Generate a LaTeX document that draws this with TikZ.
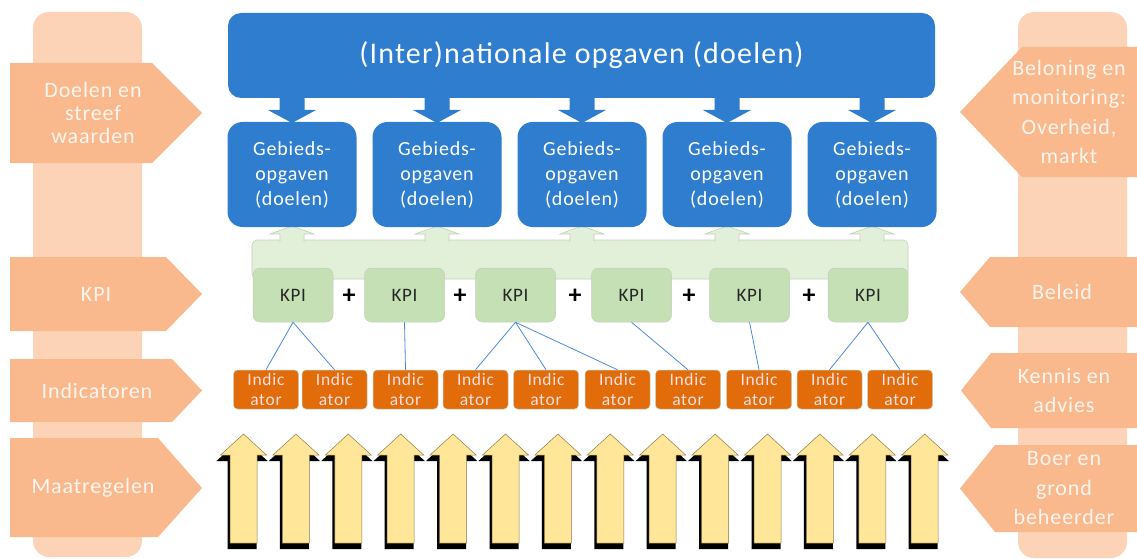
\documentclass[tikz,border=0pt]{standalone}
\usepackage{fontspec}
\setmainfont{Carlito}[LetterSpace=4]
\definecolor{blueM}{HTML}{2E7DCE}
\definecolor{pent}{HTML}{F9B98D}
\definecolor{colL}{HTML}{FDD3B7}
\definecolor{pentT}{HTML}{FFF5EF}
\definecolor{grK}{HTML}{C5E0B4}
\definecolor{grL}{HTML}{E2F0D9}
\definecolor{grB}{HTML}{C3CFBC}
\definecolor{orI}{HTML}{E36C0A}
\definecolor{orT}{HTML}{FCE0E4}
\definecolor{lineB}{HTML}{4A8AD6}
\definecolor{arrY}{HTML}{FFE699}
\definecolor{arrYD}{HTML}{8C7A4A}
\tikzset{
  ltext/.style={text=pentT, align=center, font=\fontsize{22}{23}\selectfont, inner sep=0pt},
  rtext/.style={text=pentT, align=center, font=\fontsize{22}{29.5}\selectfont, inner sep=0pt},
  topbox/.style={fill=blueM, rounded corners=13pt, minimum width=707pt, minimum height=85pt, text=white, font=\fontsize{30}{34}\selectfont},
  gbox/.style={fill=blueM, rounded corners=15pt, minimum width=129pt, minimum height=105pt, text=white, align=center, font=\fontsize{20}{25}\selectfont},
  kpibox/.style={fill=grK, draw=grB, line width=0.5pt, rounded corners=7pt, minimum width=80pt, minimum height=54pt, font=\fontsize{19}{22}\selectfont, text=black!85},
  indbox/.style={fill=orI, draw=grB, line width=0.5pt, rounded corners=4pt, minimum width=65pt, minimum height=39pt, text=orT, align=center, font=\fontsize{17.5}{20}\selectfont, inner sep=0pt},
  plussign/.style={font=\fontsize{26}{26}\selectfont\bfseries, text=black, inner sep=0pt},
  conn/.style={draw=lineB, line width=0.8pt}
}
\begin{document}
\begin{tikzpicture}[x=1pt,y=-1pt]
\useasboundingbox (0,0) rectangle (1137,559);
% side columns
\fill[colL, rounded corners=16pt] (33,12) rectangle (142,557);
\fill[colL, rounded corners=16pt] (1018,12) rectangle (1127,558);
% left pentagons
\fill[pent] (10,63) -- (152,63) -- (202,113) -- (152,163) -- (10,163) -- cycle;
\node[ltext] (l1) at (93,113) {Doelen en\\streef\\waarden};
\fill[pent] (10,257) -- (166,257) -- (202,294) -- (166,331) -- (10,331) -- cycle;
\node[ltext] (l2) at (96,294) {KPI};
\fill[pent] (10,359) -- (172,359) -- (202,390.5) -- (172,422) -- (10,422) -- cycle;
\node[ltext] (l3) at (97,390.5) {Indicatoren};
\fill[pent] (10,438) -- (158,438) -- (202,488) -- (158,537) -- (10,537) -- cycle;
\node[ltext] (l4) at (93,488) {Maatregelen};
% right pentagons
\fill[pent] (1140,47) -- (1022,47) -- (960,112) -- (1022,177) -- (1140,177) -- cycle;
\node[rtext] (r1) at (1069,112) {Beloning en\\monitoring:\\Overheid,\\markt};
\fill[pent] (1140,257) -- (990,257) -- (960,292) -- (990,327) -- (1140,327) -- cycle;
\node[rtext] (r2) at (1062,292) {Beleid};
\fill[pent] (1140,353) -- (991,353) -- (961,390.5) -- (991,428) -- (1140,428) -- cycle;
\node[rtext] (r3) at (1064,390.5) {Kennis en\\advies};
\fill[pent] (1140,445) -- (995,445) -- (960,488.5) -- (995,532) -- (1140,532) -- cycle;
\node[rtext] (r4) at (1064,488.5) {Boer en\\grond\\beheerder};
% top box
\node[topbox] (top) at (581.5,55.5) {(Inter)nationale opgaven (doelen)};
% down arrows and green band with up arrows
\filldraw[fill=grL, draw=grB, line width=0.6pt, rounded corners=5pt] (252,240) rectangle (908,279);
\foreach \cx in {292,437,582,727,872}{
  \fill[blueM] (\cx-12.5,97) -- (\cx+12.5,97) -- (\cx+12.5,110) -- (\cx+24,110) -- (\cx,123) -- (\cx-24,110) -- (\cx-12.5,110) -- cycle;
  \filldraw[fill=grL, draw=grB, line width=0.6pt] (\cx-12,241.5) -- (\cx-12,234) -- (\cx-22,234) -- (\cx,226) -- (\cx+22,234) -- (\cx+12,234) -- (\cx+12,241.5);
}
% gebieds boxes
\foreach \cx [count=\n] in {292,437,582,727,872}{
  \node[gbox] (g\n) at (\cx,174.5) {Gebieds-\\opgaven\\(doelen)};
}
% KPI boxes
\foreach \cx [count=\n] in {293,404.5,515.5,631.5,749.5,868}{
  \node[kpibox] (k\n) at (\cx,295) {KPI};
}
\foreach \cx [count=\n] in {349,460,575,689,809}{
  \node[plussign] (p\n) at (\cx,296) {+};
}
% indicator boxes
\foreach \cx [count=\n] in {266,334.5,405.5,475.5,546,617.5,688,759,829.5,900}{
  \node[indbox] (i\n) at (\cx,389.5) {Indic\\ator};
}
% connectors
\draw[conn] (k1.south) -- (i1.north);
\draw[conn] (k1.south) -- (i2.north);
\draw[conn] (k2.south) -- (i3.north);
\draw[conn] (k3.south) -- (i4.north);
\draw[conn] (k3.south) -- (i5.north);
\draw[conn] (k3.south) -- (i6.north);
\draw[conn] (k4.south) -- (i7.north);
\draw[conn] (k5.south) -- (i8.north);
\draw[conn] (k6.south) -- (i9.north);
\draw[conn] (k6.south) -- (i10.north);
% yellow block arrows
\foreach \i in {0,...,13}{
  \pgfmathsetmacro{\cx}{243.5+52.4*\i}
  \filldraw[black, line width=2pt, line join=miter, shift={(-1.5,5)}] (\cx,434) -- (\cx+23,455) -- (\cx+13.5,455) -- (\cx+13.5,543) -- (\cx-13.5,543) -- (\cx-13.5,455) -- (\cx-23,455) -- cycle;
  \filldraw[fill=arrY, draw=arrYD, line width=0.5pt] (\cx,434) -- (\cx+23,455) -- (\cx+13.5,455) -- (\cx+13.5,543) -- (\cx-13.5,543) -- (\cx-13.5,455) -- (\cx-23,455) -- cycle;
}
\end{tikzpicture}
\end{document}
